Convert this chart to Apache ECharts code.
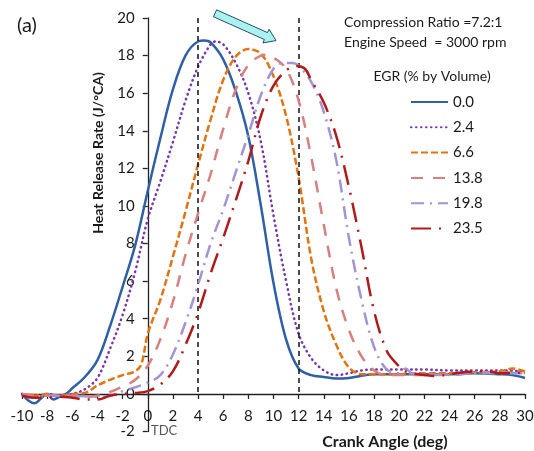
<!DOCTYPE html>
<html><head><meta charset="utf-8">
<script src="https://cdn.jsdelivr.net/npm/echarts@6/dist/echarts.min.js"></script>
<style>html,body{margin:0;padding:0;background:#fff}#c{width:534px;height:451px}</style>
</head><body><div id="c"></div>
<script>
// ---- data (crank angle deg, heat release rate J/°CA) ----
const egrLabels = ['0.0', '2.4', '6.6', '13.8', '19.8', '23.5'];
const xTicks = { min: -10, max: 30, step: 2 };
const yTicks = { min: -2, max: 20, step: 2 };
const refLines = [4, 12];

const hrr00 = [[-10,0],[-9.5,-0.35],[-9,-0.5],[-8.5,-0.25],[-8,0],[-7.5,-0.3],[-7,-0.15],[-6.5,0],[-6,0.3],[-5,0.9],[-4,1.8],[-3,3.6],[-2,5.7],[-1,7.9],[0,10.8],[1,13.6],[2,16.2],[3,18.0],[4,18.75],[4.5,18.8],[5,18.7],[6,17.8],[7,16.1],[8,13.7],[9,10.0],[10,5.9],[11,2.9],[12,1.35],[13,1.0],[14,0.9],[15,0.82],[16,0.85],[17,0.97],[18,1.05],[20,1.05],[22,1.05],[24,1.05],[26,1.1],[28,1.05],[29,1.0],[30,0.85]];
const hrr24 = [[-10,0],[-9,-0.2],[-8,0],[-7,-0.1],[-6,0],[-5,0.25],[-4,0.85],[-3,2.4],[-2,4.2],[-1,6.5],[0,9.3],[1,11.3],[2,13.4],[3,15.6],[4,17.4],[5,18.6],[5.4,18.75],[6,18.6],[7,17.6],[8,16.0],[9,13.4],[10,9.5],[11,6.0],[12,3.2],[13,1.9],[14,1.25],[15,1.0],[16,1.1],[17,1.25],[18,1.3],[20,1.3],[22,1.3],[24,1.25],[26,1.25],[28,1.25],[30,1.2]];
const hrr66 = [[-10,0],[-9,-0.1],[-8,0],[-7,-0.1],[-6,0],[-5,0.05],[-4,0.45],[-3,0.75],[-2,1.0],[-1,1.2],[-0.5,1.6],[0,3.2],[1,5.0],[2,7.3],[3,9.7],[4,12.2],[5,14.6],[6,16.7],[7,17.95],[8,18.35],[9,18.1],[10,16.9],[11,14.8],[12,11.5],[13,7.2],[14,4.4],[15,2.6],[16,1.4],[17,1.05],[18,1.05],[20,1.05],[22,1.1],[24,1.1],[26,1.15],[28,1.2],[29,1.35],[30,1.2]];
const hrr138 = [[-10,0],[-8,-0.1],[-6,-0.1],[-5,-0.15],[-4,-0.1],[-3,0.1],[-2,0.4],[-1,0.75],[0,1.5],[1,2.9],[2,4.9],[3,7.4],[4,9.6],[5,11.7],[6,14.1],[7,16.2],[8,17.5],[9,18.0],[9.5,18.05],[10,17.9],[11,17.3],[12,15.6],[13,12.6],[14,9.0],[15,5.6],[16,3.4],[17,2.0],[18,1.25],[19,1.0],[20,1.0],[22,1.0],[24,1.05],[26,1.15],[28,1.15],[30,1.1]];
const hrr198 = [[-10,-0.1],[-9,-0.2],[-8,-0.1],[-6,-0.1],[-4,-0.15],[-3,-0.1],[-2,0.15],[-1,0.35],[0,0.6],[1,1.0],[2,2.1],[3,3.8],[4,5.8],[5,8.0],[6,9.8],[7,11.8],[8,13.8],[9,15.9],[10,17.3],[10.7,17.6],[11.5,17.6],[12,17.45],[13,16.6],[14,15.0],[15,12.4],[16,8.3],[17,5.0],[18,2.5],[19,1.3],[20,1.1],[20.5,1.35],[21,1.1],[22,1.05],[24,1.0],[26,1.1],[28,1.1],[30,1.1]];
const hrr235 = [[-10,-0.1],[-9,-0.2],[-8,-0.2],[-7,-0.15],[-6,-0.2],[-5,-0.3],[-4,-0.3],[-3,-0.1],[-2,0],[-1,0.05],[0,0.15],[1,0.5],[2,1.2],[3,2.6],[4,4.3],[5,6.4],[6,8.3],[7,10.3],[8,12.4],[9,14.8],[10,16.4],[11,17.2],[11.8,17.45],[12.5,17.3],[13,16.7],[14,15.5],[15,13.7],[16,11.0],[17,7.8],[18,4.4],[19,2.3],[19.8,1.6],[20.5,1.2],[22,1.0],[23,0.95],[24,1.05],[26,1.2],[27,1.2],[28,1.1],[30,1.15]];

const seriesData = [hrr00, hrr24, hrr66, hrr138, hrr198, hrr235];
const styles = [
  { color: '#2f5fa6', type: 'solid', cap: 'butt' },
  { color: '#7535b0', type: [0.5, 4.5], cap: 'round' },
  { color: '#e4720f', type: [7, 3], cap: 'butt' },
  { color: '#da7f80', type: [12, 10], cap: 'butt' },
  { color: '#a393d6', type: [13, 6, 2, 6], cap: 'butt' },
  { color: '#b01a1a', type: [20, 8, 2, 8], cap: 'butt' }
];

const FONT = 'Lato, "Open Sans", sans-serif';
const GRID = { left: 22, right: 9, top: 18, bottom: 19.5 };
const chart = echarts.init(document.getElementById('c'), null, { renderer: 'canvas' });

const series = seriesData.map((d, i) => ({
  name: egrLabels[i],
  type: 'line',
  data: d,
  smooth: 0.35,
  showSymbol: false,
  symbol: 'none',
  z: 2 + i,
  lineStyle: { color: styles[i].color, width: 2.5, type: styles[i].type, cap: styles[i].cap },
  itemStyle: { color: styles[i].color }
}));
series[0].markLine = {
  silent: true,
  symbol: ['none', 'none'],
  label: { show: false },
  lineStyle: { color: '#111', width: 1.5, type: [5, 4] },
  data: refLines.map(x => [{ coord: [x, yTicks.max] }, { coord: [x, 0] }])
};

const axisCommon = {
  type: 'value',
  axisLine: { show: true, onZero: false, lineStyle: { color: '#222', width: 1.3 } },
  axisTick: { show: true, length: 5, lineStyle: { color: '#222', width: 1.3 } },
  splitLine: { show: false }
};

chart.setOption({
  animation: false,
  backgroundColor: '#fff',
  grid: Object.assign({ containLabel: false, outerBoundsMode: 'none' }, GRID),
  xAxis: Object.assign({}, axisCommon, {
    min: xTicks.min, max: xTicks.max, interval: xTicks.step, offset: 0,
    axisLabel: { color: '#1a1a1a', fontSize: 15, fontFamily: FONT, margin: 15, showMinLabel: true, showMaxLabel: true }
  }),
  yAxis: Object.assign({}, axisCommon, {
    min: yTicks.min, max: yTicks.max, interval: yTicks.step, offset: 0,
    axisLabel: { color: '#1a1a1a', fontSize: 15, fontFamily: FONT, margin: 13, showMinLabel: true, showMaxLabel: true }
  }),
  legend: {
    orient: 'vertical', left: 405, top: 89,
    itemWidth: 37, itemHeight: 16, itemGap: 9.3,
    data: egrLabels,
    itemStyle: { opacity: 0 },
    textStyle: { fontSize: 15, fontFamily: FONT, color: '#1a1a1a', lineHeight: 16 }
  },
  series: series
});

// move the axes so they cross at the data origin
function px(x, y) { return chart.convertToPixel({ gridIndex: 0 }, [x, y]); }
const origin = px(0, 0);
const gridBottomPx = 451 - GRID.bottom;
chart.setOption({
  xAxis: { offset: -(gridBottomPx - origin[1]) },
  yAxis: { offset: -(origin[0] - GRID.left) }
});

// annotations
const tail = px(5.35, 20.25), tip = px(10.2, 18.8);
const dx = tip[0] - tail[0], dy = tip[1] - tail[1];
const L = Math.hypot(dx, dy), ux = dx / L, uy = dy / L, nx = -uy, ny = ux;
const sw = 3.8, hw = 7.5, hl = 11;
const hb = [tip[0] - ux * hl, tip[1] - uy * hl];
const arrowPts = [
  [tail[0] + nx * sw, tail[1] + ny * sw],
  [hb[0] + nx * sw, hb[1] + ny * sw],
  [hb[0] + nx * hw, hb[1] + ny * hw],
  tip,
  [hb[0] - nx * hw, hb[1] - ny * hw],
  [hb[0] - nx * sw, hb[1] - ny * sw],
  [tail[0] - nx * sw, tail[1] - ny * sw]
];

const txt = (x, y, text, size, opts) => Object.assign({
  type: 'text', x: x, y: y, silent: true,
  style: Object.assign({ text: text, font: size + 'px ' + FONT, fill: '#1a1a1a', align: 'left', verticalAlign: 'middle' }, (opts && opts.style) || {})
}, opts && opts.rotation !== undefined ? { rotation: opts.rotation } : {});

chart.setOption({
  graphic: [
    { type: 'polygon', silent: true, shape: { points: arrowPts }, style: { fill: '#a9f2ef', stroke: '#24506a', lineWidth: 1 }, z: 100 },
    txt(17, 26, '(a)', 20),
    txt(344, 22, 'Compression Ratio =7.2:1', 14),
    txt(344, 42, 'Engine Speed  = 3000 rpm', 14),
    txt(432, 76, 'EGR (% by Volume)', 14, { style: { align: 'center' } }),
    txt(98, 153, 'Heat Release Rate (J/°CA)', 14, { rotation: Math.PI / 2, style: { align: 'center', font: 'bold 14px ' + FONT } }),
    txt(385, 442, 'Crank Angle (deg)', 16, { style: { align: 'center', font: 'bold 16px ' + FONT } }),
    txt(151, 431, 'TDC', 13, { style: { fill: '#555' } })
  ]
});
</script></body></html>
